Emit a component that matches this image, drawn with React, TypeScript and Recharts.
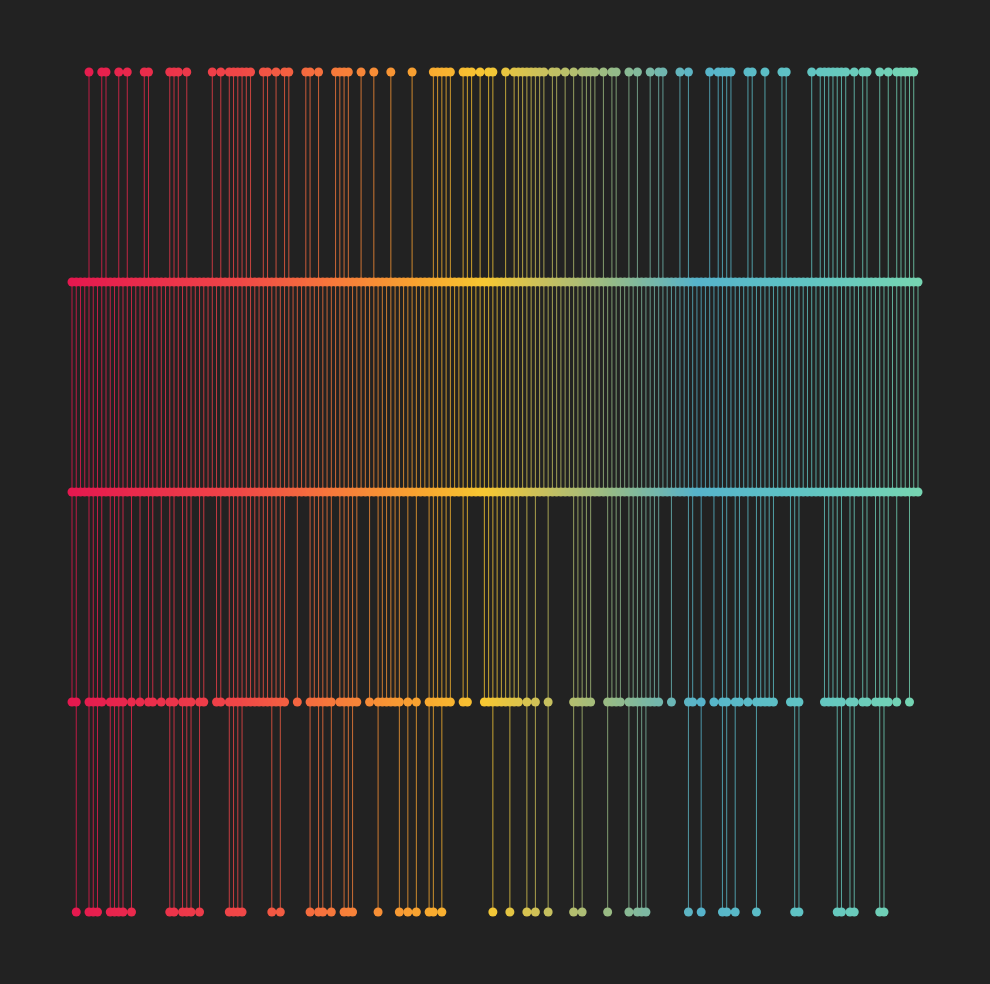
import { ComposedChart, XAxis, YAxis, Scatter, ReferenceLine } from "recharts";

// 200 items, evenly spaced left to right
const ITEMS = Array.from({ length: 200 }, (_, i) => i);

// which items reach the top row (level 0)
const TOP_ROW = [
  4, 7, 8, 11, 13, 17, 18, 23, 24, 25, 27, 33, 35, 37, 38, 39, 40, 41, 42, 45, 46, 48, 50, 51, 55, 56, 58,
  62, 63, 64, 65, 68, 71, 75, 80, 85, 86, 87, 88, 89, 92, 93, 94, 96, 98, 99, 102, 104, 105, 106, 107, 108,
  109, 110, 111, 113, 114, 116, 118, 120, 121, 122, 123, 125, 127, 128, 131, 133, 136, 138, 139, 143, 145,
  150, 152, 153, 154, 155, 159, 160, 163, 167, 168, 174, 176, 177, 178, 179, 180, 181, 182, 184, 186, 187,
  190, 192, 194, 195, 196, 197, 198,
];

// items on the fourth row (level 3)
const LOWER_ROW = [
  0, 1, 4, 5, 6, 7, 9, 10, 11, 12, 14, 16, 18, 19, 21, 23, 24, 26, 27, 28, 30, 31, 34, 35, 37, 38, 39, 40,
  41, 42, 43, 44, 45, 46, 47, 48, 49, 50, 53, 56, 57, 58, 59, 60, 61, 63, 64, 65, 66, 67, 70, 72, 73, 74,
  75, 76, 77, 79, 81, 84, 85, 86, 87, 88, 89, 92, 93, 97, 98, 99, 100, 101, 102, 103, 104, 105, 107, 109,
  112, 118, 119, 120, 121, 122, 126, 127, 128, 129, 131, 132, 133, 134, 135, 136, 137, 138, 141, 145, 146,
  148, 151, 153, 154, 156, 157, 159, 161, 162, 163, 164, 165, 169, 170, 171, 177, 178, 179, 180, 181, 183,
  184, 186, 187, 189, 190, 191, 192, 194, 197,
];

// items on the bottom row (level 4)
const BOTTOM_ROW = [
  1, 4, 5, 6, 9, 10, 11, 12, 14, 23, 24, 26, 27, 28, 30, 37, 38, 39, 40, 47, 49, 56, 58, 59, 61, 64, 65,
  66, 72, 77, 79, 81, 84, 85, 87, 99, 103, 107, 109, 112, 118, 120, 126, 131, 133, 134, 135, 145, 148, 153,
  154, 156, 161, 170, 171, 180, 181, 183, 184, 190, 191,
];

const STOPS: [number, string][] = [
  [0, "#e5184f"],
  [0.2, "#f04747"],
  [0.32, "#f77d3a"],
  [0.42, "#f8a82f"],
  [0.49, "#f7c832"],
  [0.56, "#c8c05e"],
  [0.64, "#95bb88"],
  [0.74, "#56b3cb"],
  [0.86, "#5fc3c4"],
  [1, "#76d5b2"],
];

function hex(c: string) {
  return [1, 3, 5].map((k) => parseInt(c.slice(k, k + 2), 16));
}

function colorAt(i: number) {
  const t = i / (ITEMS.length - 1);
  for (let k = 1; k < STOPS.length; k++) {
    const [t1, c1] = STOPS[k];
    const [t0, c0] = STOPS[k - 1];
    if (t <= t1) {
      const f = (t - t0) / (t1 - t0);
      const a = hex(c0);
      const b = hex(c1);
      const m = a.map((v, j) => Math.round(v + (b[j] - v) * f));
      return `rgb(${m[0]},${m[1]},${m[2]})`;
    }
  }
  return STOPS[STOPS.length - 1][1];
}

const rows = [
  TOP_ROW.map((i) => ({ x: i, y: 0 })),
  ITEMS.map((i) => ({ x: i, y: 1 })),
  ITEMS.map((i) => ({ x: i, y: 2 })),
  LOWER_ROW.map((i) => ({ x: i, y: 3 })),
  BOTTOM_ROW.map((i) => ({ x: i, y: 4 })),
];

const Dot = (props: any) => {
  if (props.cx == null) return null;
  return <circle cx={props.cx} cy={props.cy} r={4.5} fill={colorAt(props.payload.x)} />;
};

export default function App() {
  return (
    <div
      style={{
        position: "absolute",
        left: 0,
        top: 0,
        width: 990,
        height: 984,
        background: "#222222",
      }}
    >
      <ComposedChart
        width={990}
        height={984}
        margin={{ top: 72, right: 72, bottom: 72, left: 72 }}
      >
        <XAxis type="number" dataKey="x" domain={[0, ITEMS.length - 1]} hide />
        <YAxis type="number" dataKey="y" domain={[0, 4]} reversed hide />
        {ITEMS.map((i) => {
          const top = TOP_ROW.includes(i) ? 0 : 1;
          const bottom = BOTTOM_ROW.includes(i) ? 4 : LOWER_ROW.includes(i) ? 3 : 2;
          return (
            <ReferenceLine
              key={i}
              segment={[
                { x: i, y: top },
                { x: i, y: bottom },
              ]}
              stroke={colorAt(i)}
              strokeWidth={1}
              strokeOpacity={0.8}
              ifOverflow="visible"
            />
          );
        })}
        {rows.map((data, r) => (
          <Scatter key={r} data={data} shape={Dot} isAnimationActive={false} />
        ))}
      </ComposedChart>
    </div>
  );
}
